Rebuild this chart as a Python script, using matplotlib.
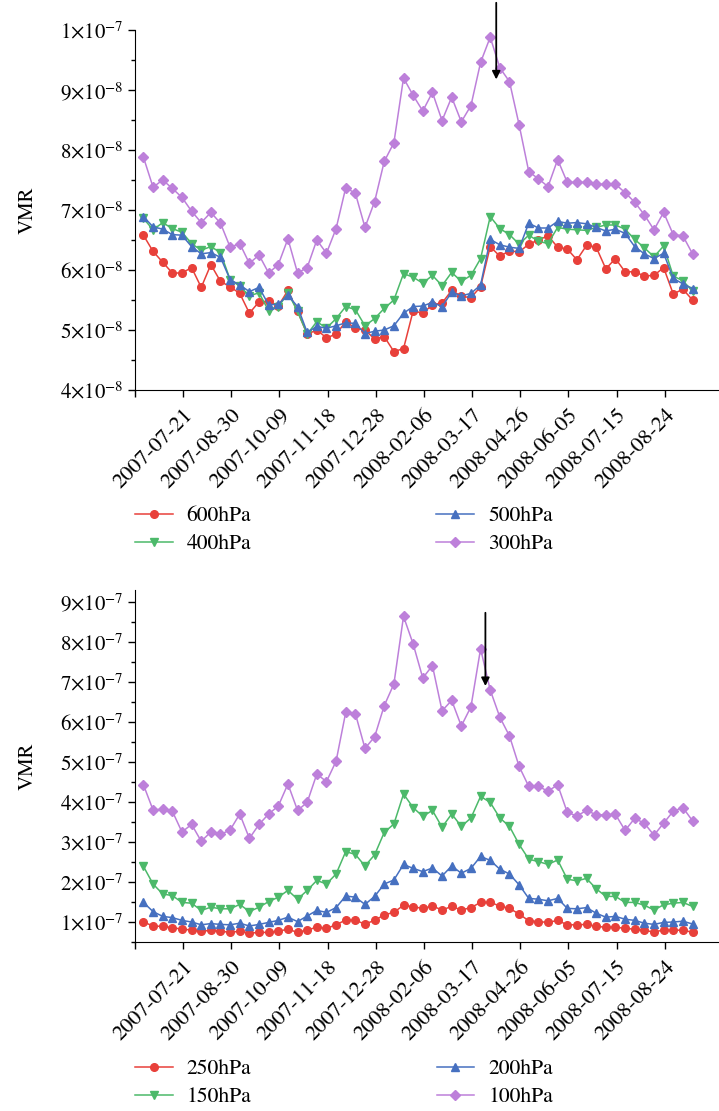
import numpy as np
import pandas as pd
import matplotlib
matplotlib.use("Agg")
import matplotlib.pyplot as plt
from matplotlib.ticker import MultipleLocator, FuncFormatter

# 8-day mean VMR values
dates = pd.date_range("2007-06-18", periods=58, freq="8D")

p600 = [6.58, 6.31, 6.13, 5.95, 5.95, 6.04, 5.71, 6.09, 5.81, 5.72, 5.61, 5.28, 5.47, 5.48, 5.40,
        5.66, 5.31, 4.93, 5.00, 4.87, 4.93, 5.14, 5.03, 5.00, 4.85, 4.89, 4.64, 4.69, 5.32, 5.28,
        5.42, 5.45, 5.66, 5.56, 5.54, 5.72, 6.39, 6.23, 6.32, 6.30, 6.43, 6.50, 6.57, 6.38, 6.35,
        6.17, 6.41, 6.38, 6.02, 6.19, 5.97, 5.97, 5.90, 5.91, 6.04, 5.60, 5.68, 5.50]
p500 = [6.89, 6.72, 6.68, 6.59, 6.58, 6.39, 6.27, 6.29, 6.21, 5.84, 5.75, 5.64, 5.71, 5.42, 5.43,
        5.58, 5.39, 4.96, 5.06, 5.03, 5.07, 5.12, 5.11, 4.94, 4.98, 5.00, 5.07, 5.28, 5.39, 5.40,
        5.46, 5.39, 5.63, 5.57, 5.61, 5.75, 6.51, 6.42, 6.38, 6.36, 6.78, 6.70, 6.70, 6.81, 6.78,
        6.79, 6.77, 6.71, 6.65, 6.68, 6.61, 6.39, 6.27, 6.19, 6.28, 5.86, 5.77, 5.69]
p400 = [6.86, 6.67, 6.79, 6.69, 6.63, 6.44, 6.33, 6.39, 6.29, 5.84, 5.73, 5.57, 5.62, 5.32, 5.38,
        5.62, 5.31, 4.93, 5.14, 5.03, 5.19, 5.39, 5.34, 5.07, 5.19, 5.36, 5.50, 5.94, 5.88, 5.78,
        5.91, 5.74, 5.96, 5.81, 5.91, 6.19, 6.89, 6.69, 6.59, 6.43, 6.58, 6.48, 6.44, 6.71, 6.68,
        6.67, 6.66, 6.71, 6.75, 6.75, 6.68, 6.51, 6.37, 6.22, 6.40, 5.90, 5.82, 5.65]
p300 = [7.88, 7.38, 7.50, 7.36, 7.21, 6.98, 6.79, 6.96, 6.78, 6.38, 6.44, 6.11, 6.25, 5.95, 6.09,
        6.52, 5.95, 6.04, 6.50, 6.28, 6.69, 7.37, 7.28, 6.71, 7.14, 7.81, 8.12, 9.20, 8.91, 8.65,
        8.96, 8.49, 8.88, 8.47, 8.74, 9.46, 9.88, 9.37, 9.14, 8.42, 7.64, 7.52, 7.39, 7.84, 7.46,
        7.46, 7.46, 7.43, 7.43, 7.43, 7.29, 7.13, 6.92, 6.67, 6.96, 6.59, 6.57, 6.27]

p250 = [0.99, 0.89, 0.88, 0.85, 0.81, 0.79, 0.76, 0.78, 0.76, 0.73, 0.76, 0.71, 0.73, 0.73, 0.76,
        0.81, 0.73, 0.79, 0.86, 0.83, 0.92, 1.04, 1.03, 0.94, 1.03, 1.17, 1.23, 1.41, 1.37, 1.33,
        1.39, 1.29, 1.38, 1.29, 1.35, 1.48, 1.48, 1.39, 1.33, 1.19, 1.02, 1.00, 0.98, 1.03, 0.92,
        0.92, 0.93, 0.88, 0.86, 0.86, 0.83, 0.81, 0.78, 0.74, 0.79, 0.78, 0.79, 0.73]
p200 = [1.48, 1.25, 1.13, 1.10, 1.03, 0.99, 0.92, 0.95, 0.93, 0.92, 0.96, 0.89, 0.93, 0.98, 1.03,
        1.11, 1.00, 1.14, 1.28, 1.23, 1.35, 1.64, 1.61, 1.43, 1.63, 1.94, 2.04, 2.43, 2.33, 2.25,
        2.34, 2.14, 2.39, 2.21, 2.33, 2.63, 2.53, 2.31, 2.19, 1.92, 1.58, 1.56, 1.52, 1.58, 1.33,
        1.32, 1.35, 1.21, 1.11, 1.13, 1.06, 1.03, 0.96, 0.93, 0.98, 0.99, 1.01, 0.94]
p150 = [2.38, 1.94, 1.69, 1.65, 1.48, 1.46, 1.28, 1.36, 1.32, 1.32, 1.43, 1.25, 1.36, 1.50, 1.61,
        1.78, 1.56, 1.78, 2.03, 1.94, 2.19, 2.75, 2.68, 2.39, 2.67, 3.23, 3.44, 4.19, 3.85, 3.63,
        3.78, 3.36, 3.69, 3.38, 3.59, 4.13, 3.98, 3.59, 3.38, 2.93, 2.56, 2.50, 2.43, 2.54, 2.06,
        2.02, 2.08, 1.82, 1.63, 1.63, 1.48, 1.48, 1.41, 1.29, 1.42, 1.46, 1.48, 1.38]
p100 = [4.42, 3.79, 3.81, 3.76, 3.24, 3.43, 3.01, 3.24, 3.18, 3.29, 3.69, 3.08, 3.43, 3.69, 3.89,
        4.44, 3.78, 3.98, 4.69, 4.50, 5.01, 6.23, 6.20, 5.33, 5.62, 6.40, 6.94, 8.63, 7.94, 7.09,
        7.40, 6.27, 6.53, 5.89, 6.37, 7.82, 6.79, 6.11, 5.64, 4.88, 4.38, 4.38, 4.26, 4.42, 3.73,
        3.64, 3.78, 3.67, 3.67, 3.68, 3.28, 3.58, 3.46, 3.16, 3.46, 3.76, 3.85, 3.52]

tick_dates = pd.date_range("2007-06-11", periods=12, freq="40D")
tick_labels = [""] + [d.strftime("%Y-%m-%d") for d in tick_dates[1:]]

red, blue, green, purple = "#e8403a", "#4670c0", "#4cb96a", "#bd80da"

plt.rcParams["font.family"] = "STIXGeneral"
plt.rcParams["mathtext.fontset"] = "stix"
plt.rcParams["font.size"] = 15

fig = plt.figure(figsize=(7.19, 11.11), dpi=100)
ax1 = fig.add_axes([135 / 719, 1 - 390 / 1111, 584 / 719, 360 / 1111])
ax2 = fig.add_axes([135 / 719, 1 - 942 / 1111, 584 / 719, 352 / 1111])


def sci(exp):
    return FuncFormatter(lambda v, p: r"%d$\times$10$^{%d}$" % (round(v / 10.0 ** exp), exp))


def draw(ax, series, names, scale, legend_y):
    # legend order: col1 = 1st, 2nd ; col2 = 3rd, 4th
    sty = [(red, "o", 5.5), (green, "v", 6), (blue, "^", 6), (purple, "D", 5)]
    handles = []
    for vals, name, (c, m, ms) in zip(series, names, sty):
        h, = ax.plot(dates, np.array(vals) * scale, color=c, marker=m, ms=ms, lw=1.1,
                     mec=c, label=name)
        handles.append(h)
    for s in ["top", "right"]:
        ax.spines[s].set_visible(False)
    ax.set_xlim(pd.Timestamp("2007-06-11"), pd.Timestamp("2008-10-08"))
    ax.set_xticks(tick_dates)
    ax.set_xticklabels(tick_labels, rotation=45, ha="right", rotation_mode="anchor", fontsize=16)
    ax.tick_params(direction="out", length=5, width=1)
    ax.tick_params(axis="x", pad=6)
    ax.tick_params(axis="y", which="minor", direction="out", length=3, width=1)
    ax.set_ylabel("VMR", labelpad=16)
    fig.legend(handles, names, ncol=2, loc="upper left",
               bbox_to_anchor=(135 / 719, 1 - legend_y / 1111),
               frameon=False, borderpad=0, borderaxespad=0, handlelength=1.75,
               handletextpad=0.65, columnspacing=8.6, labelspacing=0.38, fontsize=15.5)


# top panel: 600, 400 | 500, 300
draw(ax1, [p600, p400, p500, p300], ["600hPa", "400hPa", "500hPa", "300hPa"], 1e-8, 506)
ax1.set_ylim(4e-8, 1e-7)
ax1.yaxis.set_major_locator(MultipleLocator(1e-8))
ax1.yaxis.set_minor_locator(MultipleLocator(0.5e-8))
ax1.yaxis.set_major_formatter(FuncFormatter(
    lambda v, p: r"1$\times$10$^{-7}$" if round(v * 1e8) == 10 else r"%d$\times$10$^{-8}$" % round(v * 1e8)))
ax1.annotate("", xy=(pd.Timestamp("2008-04-06"), 9.13e-8), xytext=(pd.Timestamp("2008-04-06"), 10.5e-8),
             arrowprops=dict(arrowstyle="-|>", color="black", lw=1.3, mutation_scale=12),
             annotation_clip=False)

# bottom panel: 250, 150 | 200, 100
draw(ax2, [p250, p150, p200, p100], ["250hPa", "150hPa", "200hPa", "100hPa"], 1e-7, 1059)
ax2.set_ylim(0.49e-7, 9.29e-7)
ax2.yaxis.set_major_locator(MultipleLocator(1e-7))
ax2.yaxis.set_minor_locator(MultipleLocator(0.5e-7))
ax2.yaxis.set_major_formatter(sci(-7))
ax2.annotate("", xy=(pd.Timestamp("2008-03-28"), 6.82e-7), xytext=(pd.Timestamp("2008-03-28"), 8.79e-7),
             arrowprops=dict(arrowstyle="-|>", color="black", lw=1.3, mutation_scale=12),
             annotation_clip=False)

fig.savefig("out.png", dpi=100)
